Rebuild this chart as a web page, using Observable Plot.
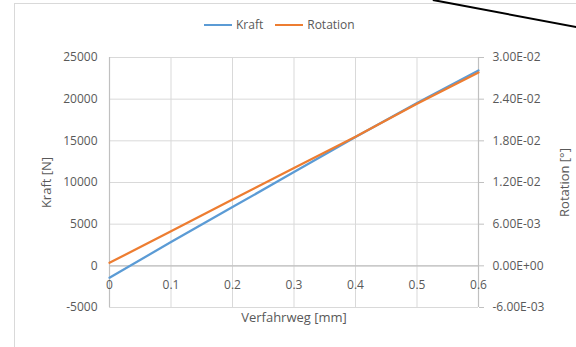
<!DOCTYPE html>
<html><head><meta charset="utf-8">
<script src="https://cdn.jsdelivr.net/npm/d3@7"></script>
<script src="https://cdn.jsdelivr.net/npm/@observablehq/plot@0.6"></script>
<style>
body{margin:0;background:#fff;}
#wrap{position:relative;width:576px;height:347px;overflow:hidden;font-family:"Open Sans",sans-serif;}
#frame{position:absolute;left:14px;top:3px;width:600px;height:400px;border:1px solid #d9d9d9;box-sizing:border-box;}
#legend{position:absolute;top:16px;left:204px;display:flex;align-items:center;font-size:12px;color:#595959;}
#legend .sw{display:inline-block;width:28px;height:0;border-top:2.5px solid;margin-right:4px;}
#legend .it{display:flex;align-items:center;margin-right:12px;}
#arrow{position:absolute;left:433px;top:-1px;width:160px;height:0;border-top:2.5px solid #000;transform-origin:0 0;transform:rotate(10.7deg);}
#chart{position:absolute;left:0;top:0;}
</style></head>
<body>
<div id="wrap">
  <div id="frame"></div>
  <div id="chart"></div>
  <div id="legend"></div>
  <div id="arrow"></div>
</div>
<script>
const verfahrweg = [0, 0.1, 0.2, 0.3, 0.4, 0.5, 0.6];
const kraft = [-1420, 2850, 7050, 11250, 15450, 19550, 23450];
const rotation = [0.00043, 0.00498, 0.00954, 0.0141, 0.0186, 0.02334, 0.02784];
const kraftTicks = [-5000, 0, 5000, 10000, 15000, 20000, 25000];
const rotTicks = [-0.006, 0, 0.006, 0.012, 0.018, 0.024, 0.03];
const xTicks = [0, 0.1, 0.2, 0.3, 0.4, 0.5, 0.6];
const seriesNames = ["Kraft", "Rotation"];
const colors = ["#5B9BD5", "#ED7D31"];

const ratio = 25000 / 0.03;
const fmtE = r => {
  const [m, e] = r.toExponential(2).split("e");
  const sign = e[0] === "-" ? "-" : "+";
  const digits = e.replace(/[+-]/, "").padStart(2, "0");
  return m + "E" + sign + digits;
};
const txt = "#595959";

const chart = Plot.plot({
  width: 576,
  height: 347,
  marginLeft: 109,
  marginRight: 98,
  marginTop: 57,
  marginBottom: 40,
  style: {fontFamily: "'Open Sans', sans-serif", fontSize: "12px", color: txt, background: "transparent"},
  x: {domain: [0, 0.6], axis: null},
  y: {domain: [-5000, 25000], axis: null},
  marks: [
    Plot.gridX(xTicks, {stroke: "#d9d9d9", strokeOpacity: 1}),
    Plot.gridY(kraftTicks, {stroke: "#d9d9d9", strokeOpacity: 1}),
    Plot.ruleY([0], {stroke: "#c0c0c0", strokeWidth: 1.2}),
    Plot.ruleX([0], {stroke: "#c0c0c0", strokeWidth: 1.2}),
    Plot.ruleX([0.6], {stroke: "#c0c0c0", strokeWidth: 1.2}),
    Plot.axisY(kraftTicks, {anchor: "left", tickSize: 0, tickPadding: 12, tickFormat: d => String(d), fill: txt, fontSize: 12}),
    Plot.axisY(rotTicks.map(r => r * ratio), {anchor: "right", tickSize: 5, tickPadding: 9, stroke: "#c0c0c0", tickFormat: d => fmtE(d / ratio), fill: txt, fontSize: 12}),
    Plot.text(xTicks, {x: d => d, y: 0, dy: 19, text: d => String(d), fill: txt, fontSize: 12}),
    Plot.line(verfahrweg, {x: d => d, y: (d, i) => kraft[i], stroke: colors[0], strokeWidth: 2.25}),
    Plot.line(verfahrweg, {x: d => d, y: (d, i) => rotation[i] * ratio, stroke: colors[1], strokeWidth: 2.25}),
    Plot.text(["Kraft [N]"], {frameAnchor: "left", textAnchor: "middle", dx: -63, rotate: -90, fill: txt, fontSize: 13}),
    Plot.text(["Rotation [°]"], {frameAnchor: "right", textAnchor: "middle", dx: 86, rotate: -90, fill: txt, fontSize: 13}),
    Plot.text(["Verfahrweg [mm]"], {frameAnchor: "bottom", dy: 14, fill: txt, fontSize: 13})
  ]
});
document.getElementById("chart").appendChild(chart);

const leg = document.getElementById("legend");
seriesNames.forEach((n, i) => {
  const it = document.createElement("span");
  it.className = "it";
  it.innerHTML = `<span class="sw" style="border-color:${colors[i]}"></span>${n}`;
  leg.appendChild(it);
});
</script>
</body></html>
